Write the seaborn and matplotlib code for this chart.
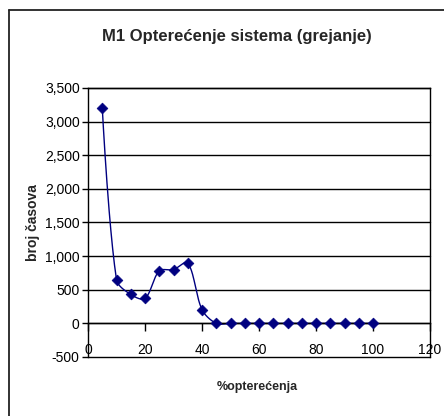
import numpy as np
import pandas as pd
import matplotlib
matplotlib.use("Agg")
import matplotlib.pyplot as plt
from matplotlib.lines import Line2D
import seaborn as sns

# ---- data ----
load_pct = [5, 10, 15, 20, 25, 30, 35, 40, 45, 50, 55, 60, 65, 70, 75, 80, 85, 90, 95, 100]
hours = [3210, 650, 430, 370, 780, 800, 900, 205, 0, 0, 0, 0, 0, 0, 0, 0, 0, 0, 0, 0]
y_ticks = [-500, 0, 500, 1000, 1500, 2000, 2500, 3000, 3500]
x_ticks = [0, 20, 40, 60, 80, 100, 120]
title = "M1 Opterećenje sistema (grejanje)"
x_label = "%opterećenja"
y_label = "broj časova"

sns.set_style("white")
plt.rcParams["font.family"] = ["Liberation Sans", "DejaVu Sans"]

df = pd.DataFrame({"x": load_pct, "y": hours})

XS = 342 / 120.0   # px per x unit (render-only smoothing scale)
YS = 269 / 4000.0  # px per y unit


def smooth(xs, ys, n=24, f=0.32):
    # Excel-like smoothed line, computed in screen space for rendering only
    P = np.column_stack([np.asarray(xs, float) * XS, np.asarray(ys, float) * YS])
    m = len(P)
    cin, cout = P.copy(), P.copy()
    for i in range(1, m - 1):
        d0 = np.linalg.norm(P[i] - P[i - 1])
        d1 = np.linalg.norm(P[i + 1] - P[i])
        tan = P[i + 1] - P[i - 1]
        cout[i] = P[i] + tan * f * d1 / (d0 + d1)
        cin[i] = P[i] - tan * f * d0 / (d0 + d1)
    pts = []
    for i in range(m - 1):
        t = np.linspace(0, 1, n, endpoint=(i == m - 2))[:, None]
        seg = ((1 - t) ** 3 * P[i] + 3 * (1 - t) ** 2 * t * cout[i]
               + 3 * (1 - t) * t ** 2 * cin[i + 1] + t ** 3 * P[i + 1])
        pts.append(seg)
    pts = np.vstack(pts)
    return pd.DataFrame({"x": pts[:, 0] / XS, "y": pts[:, 1] / YS})


curve = smooth(df["x"], df["y"])

fig = plt.figure(figsize=(4.44, 4.16), dpi=100)
ax = fig.add_axes([88 / 444, 1 - 357 / 416, (430 - 88) / 444, (357 - 88) / 416])

navy = "#000080"
sns.lineplot(data=curve, x="x", y="y", sort=False, color=navy, linewidth=1.0, ax=ax)
sns.scatterplot(data=df, x="x", y="y", marker="D", s=30, color=navy,
                edgecolor=navy, linewidth=0.5, ax=ax, zorder=5)

ax.set_xlim(0, 120)
ax.set_ylim(-500, 3500)
ax.set_yticks(y_ticks)
ax.set_yticklabels([f"{v:,}" for v in y_ticks])
ax.set_xticks(x_ticks)
ax.set_xticklabels([str(v) for v in x_ticks])

for v in y_ticks:
    ax.axhline(v, color="black", linewidth=1.0, zorder=1, clip_on=False)

for s in ["left", "right", "top"]:
    ax.spines[s].set_color("black")
    ax.spines[s].set_linewidth(1.0)
ax.spines["bottom"].set_position(("data", 0))
ax.spines["bottom"].set_color("black")
ax.spines["bottom"].set_linewidth(1.0)

ax.tick_params(axis="y", direction="out", length=4, width=1, pad=2,
               labelsize=10, colors="black", left=True)
ax.tick_params(axis="x", direction="out", length=6, width=1, pad=8,
               labelsize=10, colors="black", bottom=True)

ax.set_xlabel("")
ax.set_ylabel("")
fig.text(257 / 444, 1 - 387 / 416, x_label, ha="center", va="center",
         fontsize=9, fontweight="bold")
fig.text(33 / 444, 1 - 223 / 416, y_label, ha="center", va="center",
         rotation=90, fontsize=10, fontweight="bold")
fig.text(237 / 444, 1 - 36 / 416, title, ha="center", va="center",
         fontsize=12, fontweight="bold")

# outer chart-area border (left and top edges visible)
fig.add_artist(Line2D([9 / 444, 9 / 444], [0, 1 - 10 / 416], color="#222222",
                      linewidth=1.3, transform=fig.transFigure))
fig.add_artist(Line2D([9 / 444, 1], [1 - 10 / 416, 1 - 10 / 416], color="#222222",
                      linewidth=1.3, transform=fig.transFigure))

fig.savefig("out.png", dpi=100, facecolor="white")
